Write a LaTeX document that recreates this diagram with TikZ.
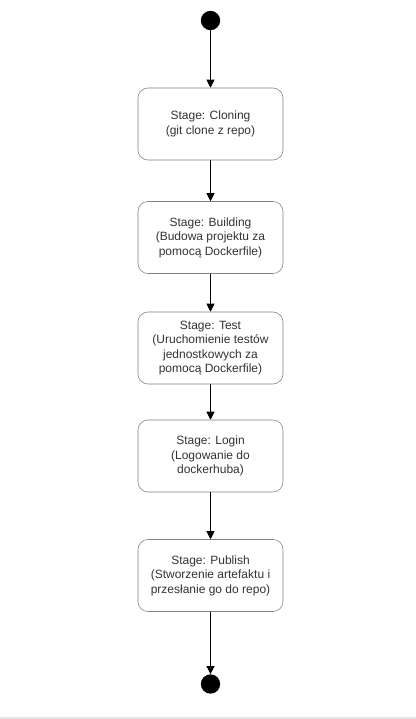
\documentclass[tikz,border=0pt]{standalone}
\usepackage{fontspec}
\setmainfont{Liberation Sans}
\usetikzlibrary{arrows.meta}
\definecolor{stageline}{HTML}{808080}
\definecolor{stagetext}{HTML}{333333}
\begin{document}
\begin{tikzpicture}[x=0.75pt,y=-0.75pt,
		stage/.style={rectangle,rounded corners=7.5pt,draw=stageline,fill=white,
			minimum width=108.75pt,minimum height=54pt,align=center,text=stagetext,
			inner sep=1pt,font=\fontsize{9}{10.9}\selectfont},
		dot/.style={circle,fill=black,minimum size=14.5pt,inner sep=0pt},
		flow/.style={-{Triangle[length=6pt,width=6pt]},semithick}]
		\useasboundingbox (0,0) rectangle (416,719);
		\fill[gray!20] (0,716.5) rectangle (416,719);
		\node [dot] (start) at (210.5,20.5) {};
		\node [stage] (clone) at (210.5,124) {Stage: Cloning\\(git clone z repo)};
		\node [stage] (build) at (210.5,237.5) {Stage: Building\\(Budowa projektu za\\pomocą Dockerfile)};
		\node [stage] (test) at (210.5,348) {Stage: Test\\(Uruchomienie testów\\jednostkowych za\\pomocą Dockerfile)};
		\node [stage] (login) at (210.5,456) {Stage: Login\\(Logowanie do\\dockerhuba)};
		\node [stage] (publish) at (210.5,575.5) {Stage: Publish\\(Stworzenie artefaktu i\\przesłanie go do repo)};
		\node [dot] (end) at (210.5,684) {};
		\draw [flow] (start) -- (clone);
		\draw [flow] (clone) -- (build);
		\draw [flow] (build) -- (test);
		\draw [flow] (test) -- (login);
		\draw [flow] (login) -- (publish);
		\draw [flow] (publish) -- (end);
	\end{tikzpicture}
\end{document}
